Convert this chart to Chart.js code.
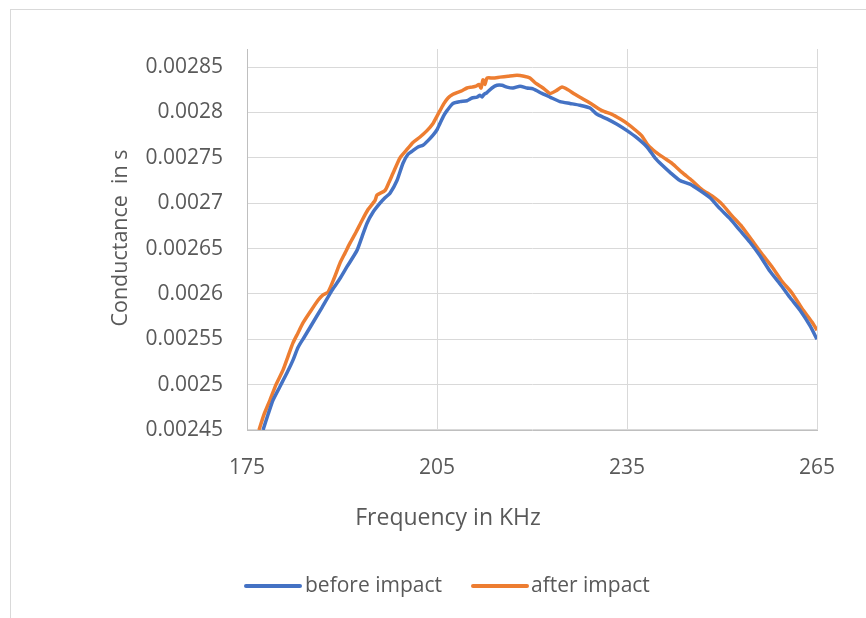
<!DOCTYPE html>
<html>
<head>
<meta charset="utf-8">
<script src="https://cdn.jsdelivr.net/npm/chart.js@4.4.1/dist/chart.umd.min.js"></script>
<style>
  html, body { margin: 0; padding: 0; background: #fff; overflow: hidden; }
  #wrap { position: relative; width: 866px; height: 618px; }
  #frame { position: absolute; left: 10px; top: 9px; width: 900px; height: 700px; border: 1px solid #d9d9d9; }
  #chart { position: absolute; left: 0; top: 0; }
</style>
</head>
<body>
<div id="wrap">
  <div id="frame"></div>
  <canvas id="chart" width="866" height="618"></canvas>
</div>
<script>
// frequency (KHz) and conductance (s)
const freqBefore = [177.53, 178.32, 179.11, 180.21, 181.32, 182.26, 183.05, 184.0, 184.95, 185.89,
  186.84, 188.42, 189.68, 190.79, 192.37, 193.16, 193.95, 194.89, 196.0, 196.79,
  197.58, 198.68, 199.63, 200.42, 201.21, 202.0, 202.79, 203.58, 204.37, 205.0,
  205.47, 206.11, 206.58, 207.53, 208.63, 209.74, 210.53, 211.32, 211.79, 212.11,
  212.42, 212.89, 213.68, 214.47, 215.26, 216.05, 217.0, 218.11, 219.21, 220.16,
  221.58, 222.84, 224.42, 226.0, 227.58, 229.16, 230.27, 231.84, 233.42, 235.0,
  236.58, 238.16, 239.42, 240.53, 241.79, 243.37, 244.95, 246.53, 248.11, 249.68,
  251.26, 252.84, 254.42, 256.0, 257.58, 259.16, 260.74, 262.32, 263.89, 265.0];
const before = [0.002450, 0.002467, 0.002483, 0.002498, 0.002513, 0.002527, 0.002541, 0.002552, 0.002563, 0.002574,
  0.002585, 0.002604, 0.002617, 0.002630, 0.002648, 0.002663, 0.002678, 0.002690, 0.002700, 0.002706,
  0.002711, 0.002725, 0.002744, 0.002754, 0.002758, 0.002762, 0.002764, 0.002769, 0.002775, 0.002781,
  0.002788, 0.002797, 0.002802, 0.002810, 0.002812, 0.002813, 0.002816, 0.002817, 0.002819, 0.002817,
  0.002820, 0.002822, 0.002827, 0.002830, 0.002830, 0.002828, 0.002827, 0.002829, 0.002827, 0.002826,
  0.002821, 0.002817, 0.002812, 0.002810, 0.002808, 0.002805, 0.002798, 0.002793, 0.002787, 0.002780,
  0.002772, 0.002762, 0.002750, 0.002742, 0.002734, 0.002725, 0.002721, 0.002714, 0.002706, 0.002694,
  0.002683, 0.002670, 0.002657, 0.002642, 0.002625, 0.002611, 0.002596, 0.002582, 0.002565, 0.002550];

const freqAfter = [176.89, 177.68, 178.63, 179.58, 180.68, 181.47, 182.26, 183.05, 183.84, 184.95,
  186.21, 187.0, 187.79, 188.74, 189.68, 190.47, 191.26, 192.21, 193.16, 194.11,
  195.21, 195.53, 196.79, 197.42, 198.05, 199.16, 200.11, 201.21, 202.32, 203.42,
  204.37, 205.0, 205.47, 206.11, 206.74, 207.53, 208.16, 208.95, 209.74, 210.53,
  211.16, 211.63, 211.95, 212.26, 212.58, 212.89, 213.84, 214.95, 216.21, 217.63,
  218.74, 219.68, 220.63, 221.74, 222.84, 223.79, 224.74, 225.68, 226.79, 228.05,
  229.47, 231.05, 232.63, 233.89, 235.0, 236.26, 237.37, 238.32, 239.58, 240.84,
  242.11, 243.68, 245.26, 246.84, 248.42, 250.0, 251.58, 253.16, 254.74, 256.32,
  257.89, 259.47, 261.05, 262.63, 264.21, 265.0];
const after = [0.002450, 0.002467, 0.002483, 0.002500, 0.002516, 0.002531, 0.002546, 0.002557, 0.002568, 0.002580,
  0.002593, 0.002599, 0.002602, 0.002617, 0.002634, 0.002645, 0.002656, 0.002668, 0.002681, 0.002693,
  0.002703, 0.002709, 0.002714, 0.002723, 0.002733, 0.002750, 0.002758, 0.002767, 0.002773, 0.002780,
  0.002788, 0.002796, 0.002802, 0.002810, 0.002816, 0.002820, 0.002822, 0.002824, 0.002827, 0.002828,
  0.002829, 0.002831, 0.002827, 0.002836, 0.002831, 0.002838, 0.002838, 0.002839, 0.002840, 0.002841,
  0.002840, 0.002838, 0.002832, 0.002827, 0.002821, 0.002824, 0.002828, 0.002825, 0.002820, 0.002815,
  0.002809, 0.002802, 0.002798, 0.002793, 0.002788, 0.002781, 0.002774, 0.002764, 0.002756, 0.002750,
  0.002744, 0.002734, 0.002725, 0.002715, 0.002708, 0.002699, 0.002686, 0.002674, 0.002659, 0.002644,
  0.002630, 0.002614, 0.002601, 0.002584, 0.002569, 0.002560];

const seriesNames = ['before impact', 'after impact'];
const seriesColors = ['#4472C4', '#ED7D31'];
const xTitle = 'Frequency in KHz';
const yTitle = 'Conductance  in s';

const FONT = '"Open Sans", sans-serif';
const TEXT = '#595959';

// axis titles + legend, placed like the original
const extras = {
  id: 'extras',
  afterDraw(chart) {
    const ctx = chart.ctx;
    ctx.save();
    ctx.fillStyle = TEXT;
    ctx.textAlign = 'center';
    ctx.textBaseline = 'middle';
    ctx.font = '23px ' + FONT;
    ctx.fillText(xTitle, 448, 518);

    ctx.save();
    ctx.font = '21.5px ' + FONT;
    ctx.translate(121, 238);
    ctx.rotate(-Math.PI / 2);
    ctx.fillText(yTitle, 0, 0);
    ctx.restore();

    // legend
    const items = [[246, 305], [473, 531]];
    ctx.font = '21px ' + FONT;
    ctx.textAlign = 'left';
    items.forEach(([lx, tx], i) => {
      ctx.strokeStyle = seriesColors[i];
      ctx.lineWidth = 4;
      ctx.lineCap = 'round';
      ctx.beginPath();
      ctx.moveTo(lx, 586);
      ctx.lineTo(lx + 54, 586);
      ctx.stroke();
      ctx.fillText(seriesNames[i], tx, 586);
    });
    ctx.restore();
  }
};

new Chart(document.getElementById('chart'), {
  type: 'line',
  data: {
    datasets: [
      {
        label: seriesNames[0],
        data: freqBefore.map((f, i) => ({ x: f, y: before[i] })),
        borderColor: seriesColors[0],
        borderWidth: 3.5,
        pointRadius: 0,
        tension: 0.2
      },
      {
        label: seriesNames[1],
        data: freqAfter.map((f, i) => ({ x: f, y: after[i] })),
        borderColor: seriesColors[1],
        borderWidth: 3.5,
        pointRadius: 0,
        tension: 0.2
      }
    ]
  },
  options: {
    responsive: false,
    animation: false,
    layout: { padding: { left: 0, right: 49, top: 49, bottom: 0 } },
    plugins: { legend: { display: false }, tooltip: { enabled: false } },
    scales: {
      x: {
        type: 'linear',
        min: 175,
        max: 265,
        afterFit: (s) => { s.height = 188; },
        ticks: { stepSize: 30, padding: 25, color: TEXT, font: { family: FONT, size: 21 } },
        grid: { color: '#d9d9d9', lineWidth: 1, drawTicks: false },
        border: { color: '#bfbfbf', width: 1 }
      },
      y: {
        min: 0.00245,
        max: 0.00287,
        afterFit: (s) => { s.width = 247; },
        ticks: {
          stepSize: 0.00005,
          includeBounds: false,
          padding: 24,
          color: TEXT,
          font: { family: FONT, size: 21 },
          callback: (v) => String(Number(v.toFixed(5)))
        },
        grid: { color: '#d9d9d9', lineWidth: 1, drawTicks: false },
        border: { color: '#bfbfbf', width: 1 }
      }
    }
  },
  plugins: [extras]
});
</script>
</body>
</html>
